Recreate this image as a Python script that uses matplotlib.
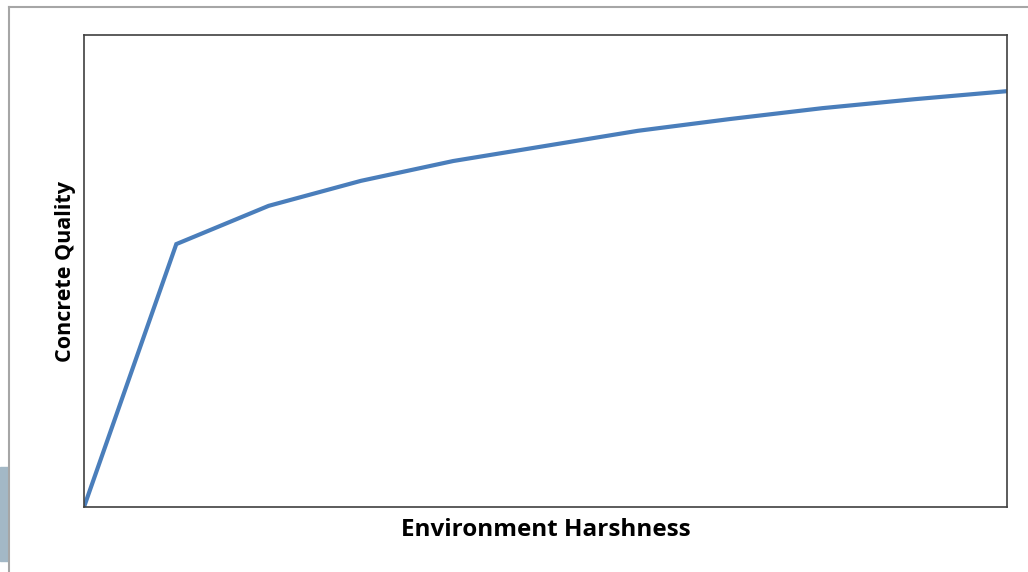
import matplotlib.pyplot as plt
from matplotlib.lines import Line2D
from matplotlib.patches import Rectangle

# data (arbitrary units, 0-100)
harshness = [0, 1, 2, 3, 4, 5, 6, 7, 8, 9, 10]
quality = [0, 55.7, 63.8, 69.1, 73.3, 76.5, 79.7, 82.2, 84.5, 86.4, 88.1]

W, H = 1028, 572
fig = plt.figure(figsize=(W / 100, H / 100), dpi=100)

# slide frame bits
fig.add_artist(Line2D([9 / W, 1], [1 - 7 / H, 1 - 7 / H], color='#a6a6a6', lw=1.5))
fig.add_artist(Line2D([9 / W, 9 / W], [0, 1 - 7 / H], color='#a6a6a6', lw=1.5))
fig.add_artist(Rectangle((0, 1 - 561 / H), 8 / W, 94 / H, color='#a3b8c6',
                         transform=fig.transFigure))

ax = fig.add_axes([84 / W, 1 - 507 / H, 923 / W, 472 / H])
ax.plot(harshness, quality, color='#4a7ebb', lw=3, solid_capstyle='butt',
        solid_joinstyle='miter')
ax.set_xlim(0, 10)
ax.set_ylim(0, 100)
ax.set_xticks([])
ax.set_yticks([])
for s in ax.spines.values():
    s.set_color('#404040')
    s.set_linewidth(1.2)

ax.set_xlabel('Environment Harshness', fontsize=17.5, fontweight='bold',
              family='Open Sans', labelpad=8)
ax.set_ylabel('Concrete Quality', fontsize=15.5, fontweight='bold',
              family='Open Sans', labelpad=6)

fig.savefig('out.png', dpi=100)
